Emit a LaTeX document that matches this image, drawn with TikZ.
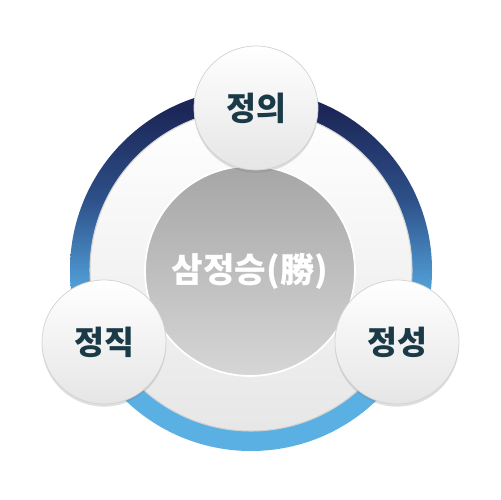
\documentclass[tikz,border=0pt]{standalone}
\usepackage{fontspec}
\newfontfamily\kr{Noto Sans CJK KR}
\usetikzlibrary{shadows}
\definecolor{ringdark}{HTML}{1C2758}
\definecolor{ringmid}{HTML}{2D4F88}
\definecolor{ringsoft}{HTML}{4A8FC8}
\definecolor{ringlight}{HTML}{5AB0E2}
\definecolor{coretop}{HTML}{A6A6A6}
\definecolor{corebottom}{HTML}{D6D6D6}
\definecolor{txtdark}{HTML}{1B3A48}
\pgfdeclareverticalshading{ringshade}{100bp}{color(0bp)=(ringlight); color(45bp)=(ringlight); color(50bp)=(ringsoft); color(60bp)=(ringmid); color(72bp)=(ringdark); color(100bp)=(ringdark)}

\begin{document}
\begin{tikzpicture}[x=0.02cm,y=0.02cm,
  bubble/.style={circle,minimum size=2.48cm,inner sep=0pt,top color=white,bottom color=gray!20,
    draw=gray!35,line width=0.4pt,drop shadow={opacity=0.25,shadow xshift=0pt,shadow yshift=-1.5pt},
    font=\kr\bfseries\fontsize{18.5}{20}\selectfont,text=txtdark}]
  \useasboundingbox[fill=white] (0,0) rectangle (500,500);
  % ring and inner disk
  \shade[shading=ringshade,even odd rule] (251,230) circle (181) (251,230) circle (161);
  \shade[top color=white,bottom color=gray!19] (251,230) circle (161);
  \draw[gray!35,line width=0.6pt] (251,230) circle (161);
  % centre
  \node[circle,minimum size=4.2cm,inner sep=0pt,top color=coretop,bottom color=corebottom,
    draw=white,line width=1pt,text=white,font=\kr\bfseries\fontsize{19.5}{22}\selectfont]
    (core) at (250,229) {삼정승(勝)};
  \node[bubble] (justice) at (256,392) {정의};
  \node[bubble] (honesty) at (104,158) {정직};
  \node[bubble] (sincerity) at (397,158) {정성};
\end{tikzpicture}
\end{document}
